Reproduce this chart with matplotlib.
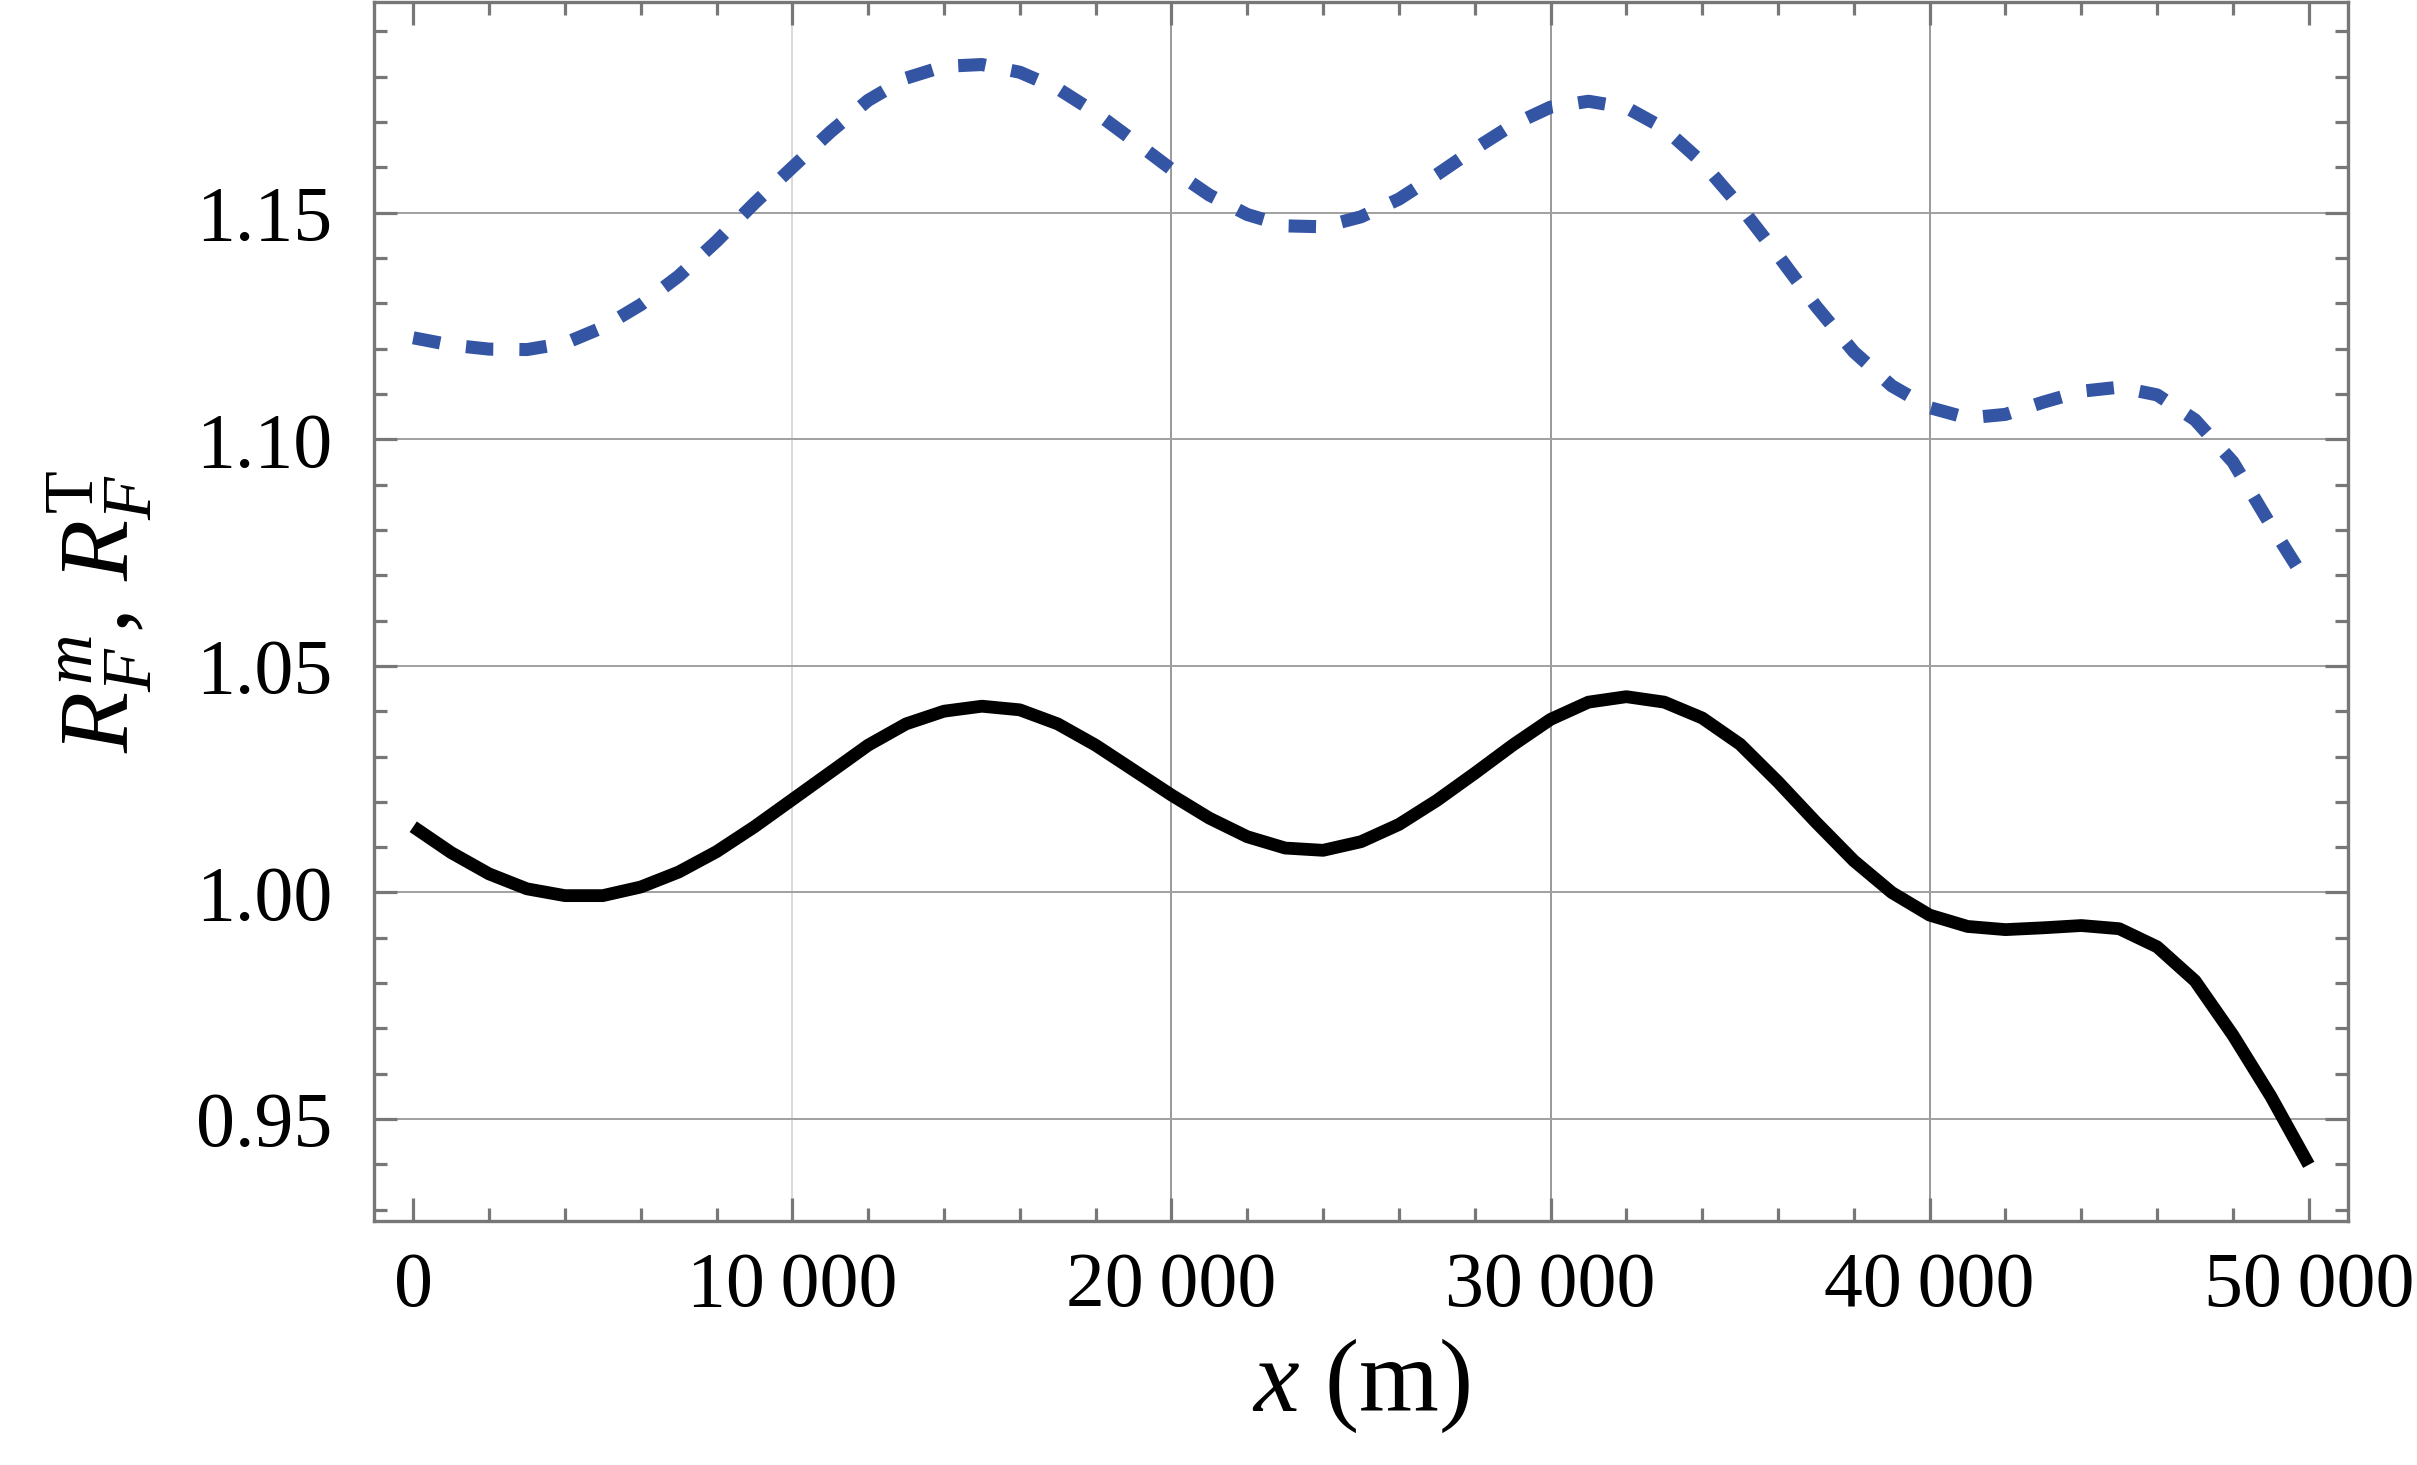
import matplotlib
matplotlib.use("Agg")
from matplotlib import pyplot as plt
import matplotlib.ticker as ticker

# positions along x (m), one every 1000 m
x_m = [0, 1000, 2000, 3000, 4000, 5000, 6000, 7000, 8000, 9000,
       10000, 11000, 12000, 13000, 14000, 15000, 16000, 17000, 18000, 19000,
       20000, 21000, 22000, 23000, 24000, 25000, 26000, 27000, 28000, 29000,
       30000, 31000, 32000, 33000, 34000, 35000, 36000, 37000, 38000, 39000,
       40000, 41000, 42000, 43000, 44000, 45000, 46000, 47000, 48000, 49000,
       50000]

# R_F^m (black solid)
r_solid = [1.0145, 1.0088, 1.0041, 1.0008, 0.9993, 0.9993, 1.0012, 1.0045, 1.0090, 1.0145,
           1.0205, 1.0265, 1.0325, 1.0372, 1.0400, 1.0411, 1.0403, 1.0372, 1.0325, 1.0270,
           1.0215, 1.0164, 1.0123, 1.0098, 1.0093, 1.0112, 1.0150, 1.0203, 1.0263, 1.0325,
           1.0382, 1.0420, 1.0432, 1.0420, 1.0385, 1.0327, 1.0244, 1.0155, 1.0070, 1.0000,
           0.9950, 0.9925, 0.9918, 0.9922, 0.9927, 0.9920, 0.9880, 0.9805, 0.9685, 0.9550,
           0.9399]

# R_F^T (blue dashed)
r_dashed = [1.1224, 1.1208, 1.1199, 1.1198, 1.1212, 1.1247, 1.1297, 1.1360, 1.1437, 1.1521,
            1.1600, 1.1678, 1.1748, 1.1797, 1.1823, 1.1827, 1.1810, 1.1774, 1.1721, 1.1659,
            1.1596, 1.1539, 1.1496, 1.1471, 1.1469, 1.1491, 1.1530, 1.1584, 1.1641, 1.1694,
            1.1733, 1.1746, 1.1732, 1.1686, 1.1611, 1.1514, 1.1406, 1.1294, 1.1193, 1.1118,
            1.1070, 1.1047, 1.1055, 1.1082, 1.1106, 1.1115, 1.1098, 1.1043, 1.0950, 1.0810,
            1.0677]

x_ticks = [0, 10000, 20000, 30000, 40000, 50000]
x_labels = ["0", "10\u2009000", "20\u2009000", "30\u2009000", "40\u2009000", "50\u2009000"]
y_ticks = [0.95, 1.00, 1.05, 1.10, 1.15]
y_labels = ["0.95", "1.00", "1.05", "1.10", "1.15"]
grid_x = [10000, 20000, 30000, 40000]

plt.rcParams['font.family'] = ['Liberation Serif', 'DejaVu Serif']
plt.rcParams['mathtext.fontset'] = 'custom'
plt.rcParams['mathtext.rm'] = 'Liberation Serif'
plt.rcParams['mathtext.it'] = 'Liberation Serif:italic'

frame = '#777777'

fig = plt.figure(figsize=(24.17, 14.65), dpi=100)
ax = fig.add_axes([374/2417, 1 - 1221/1465, (2348 - 374)/2417, (1221 - 2)/1465])

ax.set_xlim(-1035, 51035)
ax.set_ylim(0.9275, 1.1965)

# grid: the first vertical line is lighter in the original
for i, gx in enumerate(grid_x):
    ax.axvline(gx, color='#d9d9d9' if i == 0 else '#999999', lw=1.4, zorder=1)
for gy in y_ticks:
    ax.axhline(gy, color='#a0a0a0', lw=1.4, zorder=1)

ax.plot(x_m, r_solid, color='black', lw=9.2, solid_capstyle='butt',
        solid_joinstyle='round', zorder=3)
ax.plot(x_m, r_dashed, color='#3454a4', lw=9.4, dashes=(2.1, 2.0),
        dash_capstyle='butt', zorder=3)

ax.set_xticks(x_ticks)
ax.set_xticklabels(x_labels)
ax.set_yticks(y_ticks)
ax.set_yticklabels(y_labels)
ax.xaxis.set_minor_locator(ticker.MultipleLocator(2000))
ax.yaxis.set_minor_locator(ticker.MultipleLocator(0.01))

ax.tick_params(which='both', direction='in', top=True, right=True,
               color=frame, width=2.3, labelsize=56)
ax.tick_params(which='major', length=16.5)
ax.tick_params(which='minor', length=9.5)
ax.tick_params(axis='x', pad=22)
ax.tick_params(axis='y', pad=30)

for s in ax.spines.values():
    s.set_color(frame)
    s.set_linewidth(2.4)

ax.set_xlabel(r"$x$ (m)", fontsize=74, labelpad=10)
ax.set_ylabel(r"$R_F^m,\, R_F^{\mathrm{T}}$", fontsize=72, labelpad=30)

plt.savefig("out.png", dpi=100)
